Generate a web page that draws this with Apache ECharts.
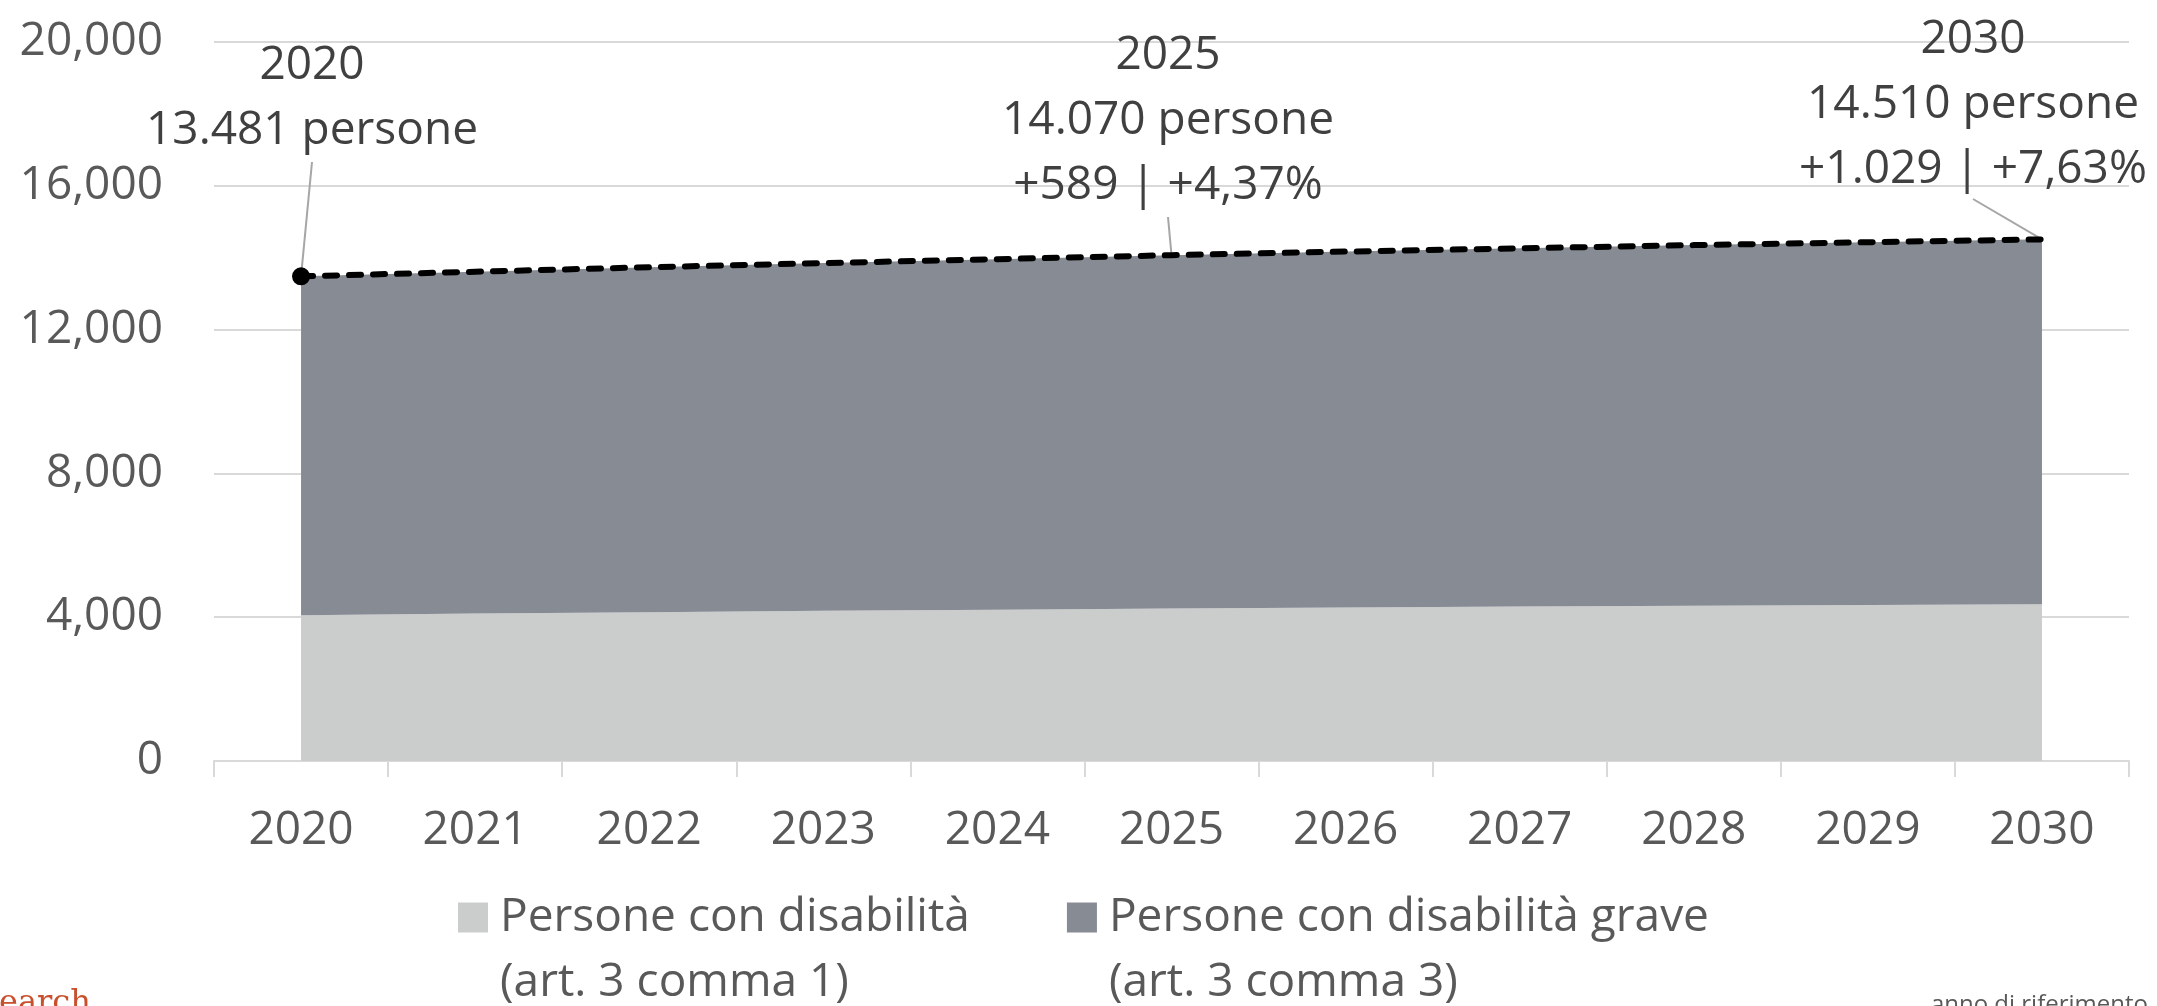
<!DOCTYPE html>
<html>
<head>
<meta charset="utf-8">
<script src="https://cdn.jsdelivr.net/npm/echarts@6/dist/echarts.min.js"></script>
<style>
html,body{margin:0;padding:0;background:#fff;}
#chart{width:2157px;height:1006px;}
</style>
</head>
<body>
<div id="chart"></div>
<script>
// ---- data ----
const years = ['2020','2021','2022','2023','2024','2025','2026','2027','2028','2029','2030'];
const lieve = [4056, 4100, 4140, 4180, 4210, 4240, 4270, 4295, 4320, 4340, 4360];
const grave = [9425, 9510, 9595, 9670, 9750, 9830, 9900, 9965, 10030, 10090, 10150];
const totale = [13481, 13610, 13735, 13850, 13960, 14070, 14170, 14260, 14350, 14430, 14510];
const yTicks = [0, 4000, 8000, 12000, 16000, 20000];
const seriesNames = ['Persone con disabilità\n(art. 3 comma 1)', 'Persone con disabilità grave\n(art. 3 comma 3)'];
const annotIdx = [0, 5, 10];

const FONT = '"Open Sans", "Noto Sans", sans-serif';
const itNum = v => Math.round(v).toString().replace(/\B(?=(\d{3})+(?!\d))/g, '.');
const itPct = v => v.toFixed(2).replace('.', ',');

function annotText(i) {
  const base = totale[0];
  let s = years[i] + '\n' + itNum(totale[i]) + ' persone';
  if (i > 0) {
    const d = totale[i] - base;
    s += '\n+' + itNum(d) + ' | +' + itPct(d / base * 100) + '%';
  }
  return s;
}

const chart = echarts.init(document.getElementById('chart'), null, {renderer: 'canvas'});

const totalData = totale.map((v, i) => i === 0
  ? {value: v, symbol: 'circle', symbolSize: 18, itemStyle: {color: '#000'}}
  : {value: v, symbol: 'none'});

chart.setOption({
  animation: false,
  backgroundColor: '#ffffff',
  grid: {left: 214, right: 28, top: 42, bottom: 245, containLabel: false},
  legend: {
    data: seriesNames,
    left: 458, top: 820,
    padding: 0,
    itemWidth: 30, itemHeight: 30, itemGap: 97,
    icon: 'rect',
    formatter: name => '\n' + name,
    textStyle: {fontFamily: FONT, fontSize: 46, color: '#595959', lineHeight: 65, padding: [0, 0, 0, 7]}
  },
  xAxis: {
    type: 'category',
    data: years,
    boundaryGap: true,
    axisLine: {lineStyle: {color: '#d9d9d9', width: 2}},
    axisTick: {show: true, length: 16, lineStyle: {color: '#d9d9d9', width: 2}},
    axisLabel: {fontFamily: FONT, fontSize: 46, color: '#595959', margin: 47}
  },
  yAxis: {
    type: 'value',
    min: yTicks[0], max: yTicks[yTicks.length - 1], interval: yTicks[1] - yTicks[0],
    axisLine: {show: false},
    axisTick: {show: false},
    splitLine: {lineStyle: {color: '#d9d9d9', width: 2}},
    axisLabel: {
      fontFamily: FONT, fontSize: 46, color: '#595959', margin: 51,
      formatter: v => v.toString().replace(/\B(?=(\d{3})+(?!\d))/g, ',')
    }
  },
  series: [
    {
      name: seriesNames[0], type: 'line', stack: 'tot', data: lieve,
      symbol: 'none', lineStyle: {width: 0}, itemStyle: {color: '#cbcdcc'},
      areaStyle: {color: '#cbcdcc', opacity: 1}
    },
    {
      name: seriesNames[1], type: 'line', stack: 'tot', data: grave,
      symbol: 'none', lineStyle: {width: 0}, itemStyle: {color: '#868b94'},
      areaStyle: {color: '#868b94', opacity: 1}
    },
    {
      name: 'Totale', type: 'line', data: totalData, z: 5,
      showSymbol: true,
      lineStyle: {color: '#000', width: 6, type: [12, 12], cap: 'round'},
      itemStyle: {color: '#000'}
    }
  ]
});

// annotations: text placed above, leader line to data point via library scale
const annotPos = [
  {x: 312, top: 33, from: [312, 162]},
  {x: 1168, top: 23, from: [1168, 217]},
  {x: 1973, top: 7, from: [1973, 199]}
];
const graphics = [];
annotIdx.forEach((idx, k) => {
  const p = chart.convertToPixel({seriesIndex: 2}, [idx, totale[idx]]);
  const a = annotPos[k];
  graphics.push({
    type: 'line', z: 4, silent: true,
    shape: {x1: a.from[0], y1: a.from[1], x2: p[0], y2: p[1]},
    style: {stroke: '#a6a6a6', lineWidth: 2}
  });
  graphics.push({
    type: 'text', z: 10, silent: true, x: a.x, y: a.top,
    style: {text: annotText(idx), fontFamily: FONT, fontSize: 46, fill: '#404040',
            align: 'center', verticalAlign: 'top', lineHeight: 65}
  });
});
graphics.push({
  type: 'text', silent: true, x: -1, y: 1004,
  style: {text: 'earch', fontFamily: '"DejaVu Serif", serif', fontSize: 32, fill: '#c8502d',
          align: 'left', verticalAlign: 'middle'}
});
graphics.push({
  type: 'text', silent: true, x: 2148, y: 1005,
  style: {text: 'anno di riferimento', fontFamily: FONT, fontSize: 24, fill: '#595959',
          align: 'right', verticalAlign: 'middle'}
});
chart.setOption({graphic: graphics});
</script>
</body>
</html>
